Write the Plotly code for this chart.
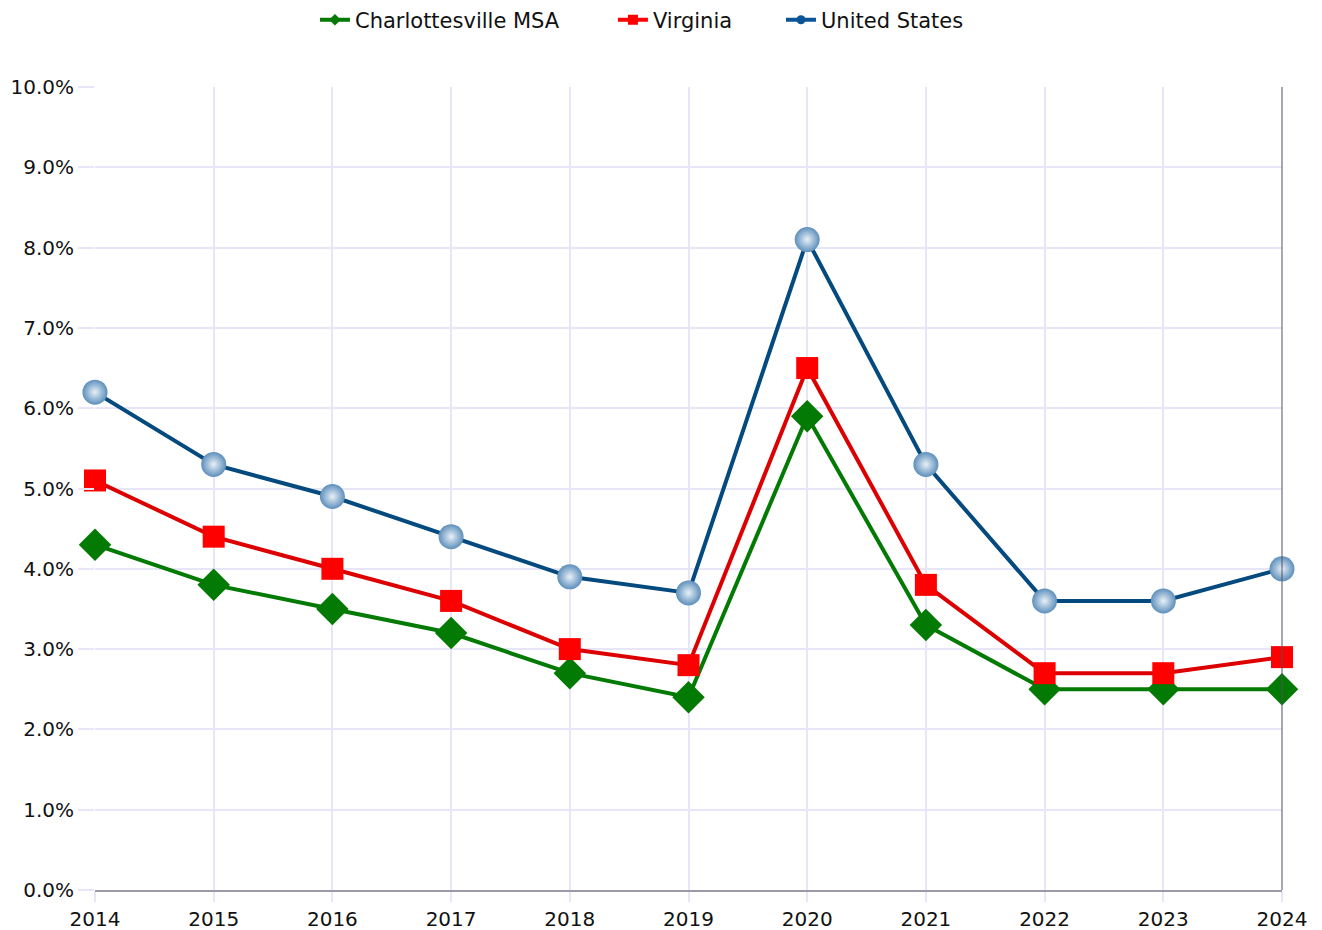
import plotly.graph_objects as go

years = [2014, 2015, 2016, 2017, 2018, 2019, 2020, 2021, 2022, 2023, 2024]
charlottesville = [4.3, 3.8, 3.5, 3.2, 2.7, 2.4, 5.9, 3.3, 2.5, 2.5, 2.5]
virginia = [5.1, 4.4, 4.0, 3.6, 3.0, 2.8, 6.5, 3.8, 2.7, 2.7, 2.9]
united_states = [6.2, 5.3, 4.9, 4.4, 3.9, 3.7, 8.1, 5.3, 3.6, 3.6, 4.0]
y_ticks = [0, 1, 2, 3, 4, 5, 6, 7, 8, 9, 10]

GREEN = "#037a03"
RED_LINE = "#dd0000"
RED = "#ff0000"
BLUE = "#054a7e"

fig = go.Figure()
fig.add_trace(go.Scatter(
    x=years, y=charlottesville, name="Charlottesville MSA", mode="lines+markers",
    line=dict(color=GREEN, width=4),
    marker=dict(symbol="diamond", size=25, color=GREEN),
    cliponaxis=False, showlegend=False,
))
fig.add_trace(go.Scatter(
    x=years, y=virginia, name="Virginia", mode="lines+markers",
    line=dict(color=RED_LINE, width=4),
    marker=dict(symbol="square", size=22, color=RED),
    cliponaxis=False, showlegend=False,
))
fig.add_trace(go.Scatter(
    x=years, y=united_states, name="United States", mode="lines+markers",
    line=dict(color=BLUE, width=4),
    marker=dict(symbol="circle", size=25, color="#5d8fbb",
                gradient=dict(type="radial", color="#e8f0f8"),
                line=dict(width=0)),
    cliponaxis=False, showlegend=False,
))

# legend entries (small symbols like the reference)
fig.add_trace(go.Scatter(x=[None], y=[None], name="Charlottesville MSA", mode="lines+markers",
                         line=dict(color=GREEN, width=4),
                         marker=dict(symbol="diamond", size=9, color=GREEN), legend="legend"))
fig.add_trace(go.Scatter(x=[None], y=[None], name="Virginia", mode="lines+markers",
                         line=dict(color=RED, width=4),
                         marker=dict(symbol="square", size=10, color=RED), legend="legend2"))
fig.add_trace(go.Scatter(x=[None], y=[None], name="United States", mode="lines+markers",
                         line=dict(color="#0b5596", width=4),
                         marker=dict(symbol="circle", size=9, color="#0b5596"), legend="legend3"))

fig.add_shape(type="line", xref="paper", yref="paper", x0=1, x1=1, y0=0, y1=1,
              line=dict(color="#505060", width=1))

leg_common = dict(orientation="h", xref="container", yref="container", xanchor="left",
                  yanchor="middle", y=0.987, font=dict(size=21), bgcolor="rgba(0,0,0,0)")

fig.update_layout(
    width=1322, height=930,
    margin=dict(l=87, r=48, t=79, b=48),
    paper_bgcolor="white", plot_bgcolor="white",
    font=dict(family="DejaVu Sans, Verdana, sans-serif", size=20, color="#111111"),
    showlegend=True,
    legend=dict(x=0.2322, **leg_common),
    legend2=dict(x=0.4576, **leg_common),
    legend3=dict(x=0.5847, **leg_common),
    xaxis=dict(range=[2014, 2024], tickvals=years, ticktext=[str(y) for y in years],
               showgrid=True, gridcolor="#e6e6f8", gridwidth=1.5,
               ticks="outside", ticklen=10, tickcolor="#e6e6f8", tickwidth=1.5,
               showline=True, linecolor="#9a9aa8", linewidth=1.5, zeroline=False,
               tickfont=dict(size=20), automargin=False),
    yaxis=dict(range=[0, 10], tickvals=y_ticks,
               ticktext=[f"{v:.1f}%" for v in y_ticks],
               showgrid=True, gridcolor="#e6e6f8", gridwidth=1.5,
               ticks="outside", ticklen=16, tickcolor="#e6e6f8", tickwidth=1.5,
               showline=False, zeroline=False, tickfont=dict(size=20), automargin=False),
)

fig.write_html("out.html")
